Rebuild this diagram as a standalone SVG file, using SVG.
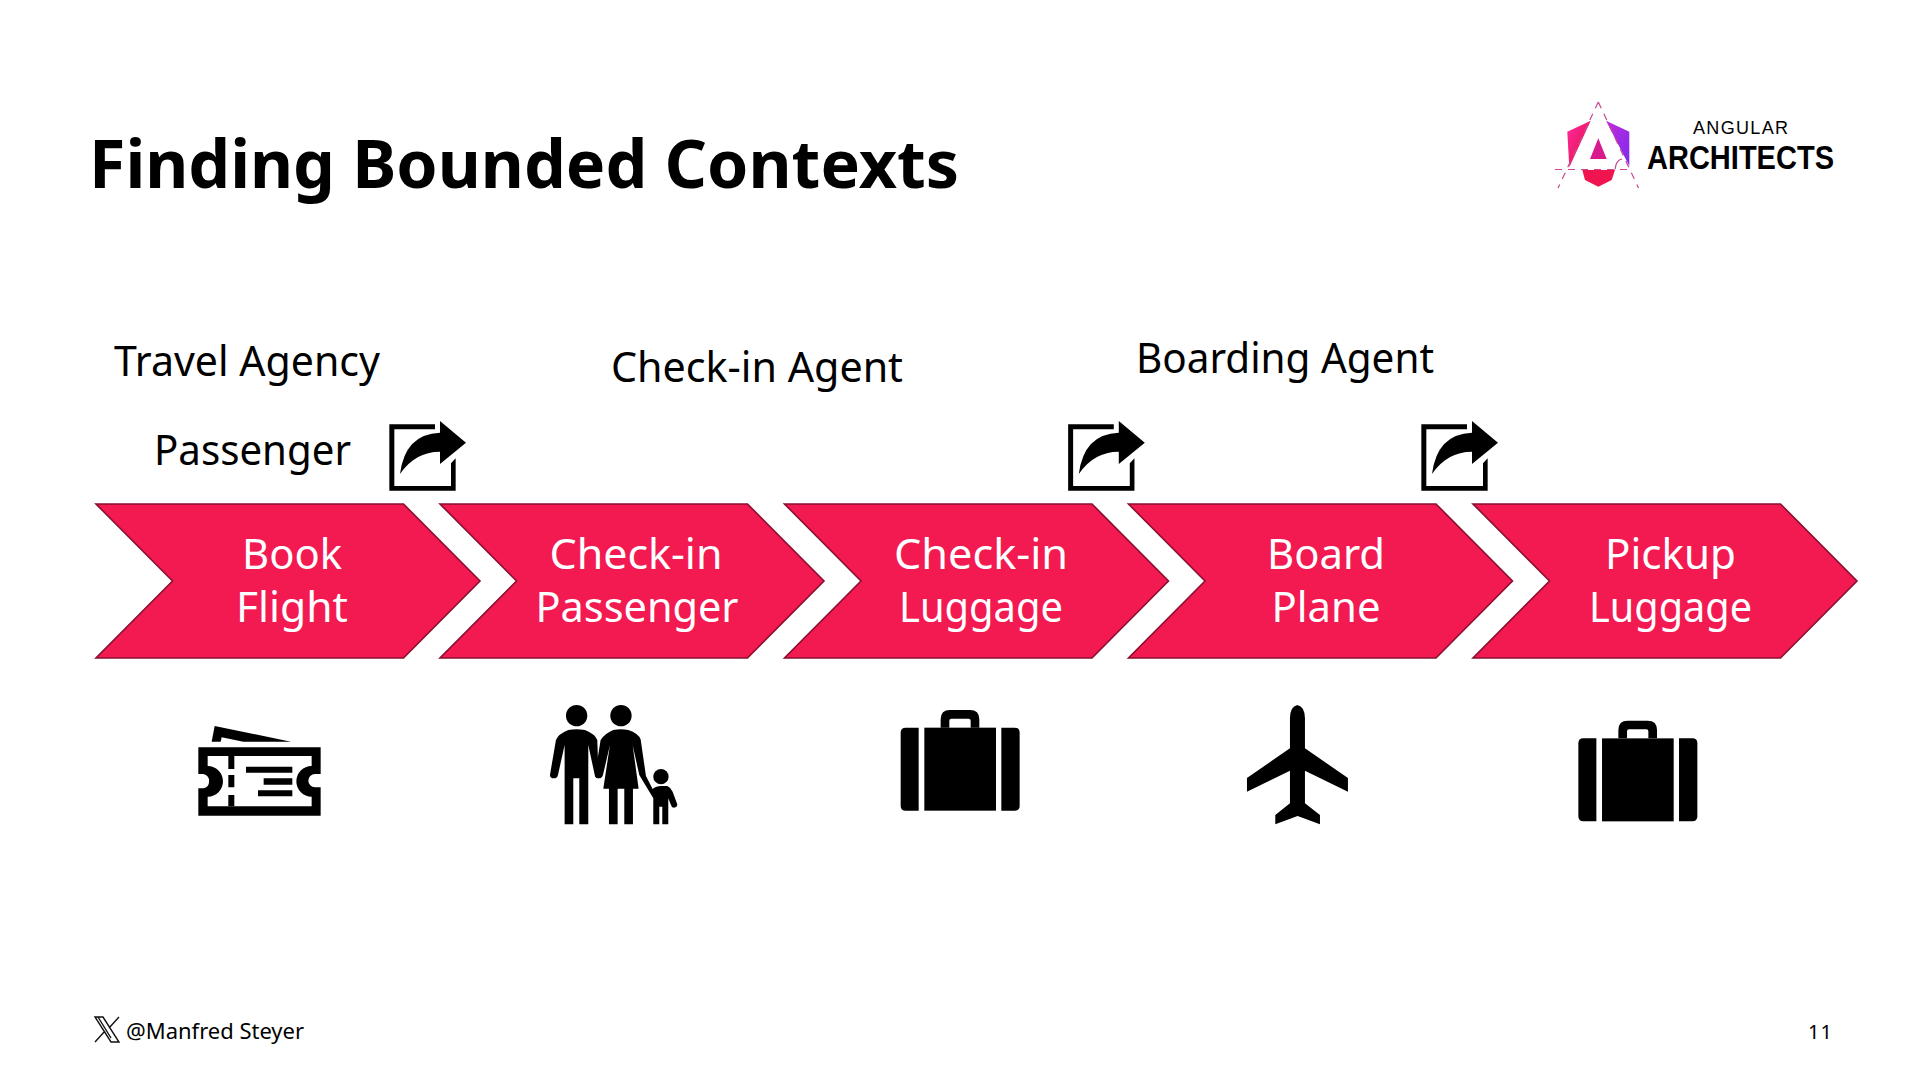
<svg xmlns="http://www.w3.org/2000/svg" width="1920" height="1080" viewBox="0 0 1920 1080">
<style>
text{font-family:"Noto Sans","Open Sans","Liberation Sans",sans-serif;fill:#000}
.t{font-size:41.5px;fill:#fff;text-anchor:middle}
.l{font-size:41px}
.c{fill:#f31a52;stroke:#8a0f30;stroke-width:1.6}
.d{fill:none;stroke:#c9488f;stroke-width:1.2;stroke-dasharray:7 6}
.m{font-family:"Liberation Sans",Arial,sans-serif}
</style>
<defs>
<linearGradient id="lg" x1="0" y1="0" x2="1" y2="1"><stop offset="0" stop-color="#ff2aa0"/><stop offset="1" stop-color="#e0103f"/></linearGradient>
<linearGradient id="rg" x1="0" y1="0" x2="1" y2="1"><stop offset="0" stop-color="#c52ad8"/><stop offset="1" stop-color="#7a2cf0"/></linearGradient>
<polygon id="chev" points="0,0 307.5,0 384,77 307.5,154 0,154 76.5,77"/>
<g id="share" transform="scale(.3333)">
<path d="M58 43H195V58H73V228H243V160L257 145V242H58Z"/>
<path d="M210 33L288 98 210 162V125Q135 125 90 192 105 72 210 68Z"/>
</g>
<g id="case" transform="scale(.3333)">
<path d="M107 113H146V362H107Q92 362 92 347V128Q92 113 107 113Z"/>
<rect x="163" y="113" width="215" height="249"/>
<path d="M394 113H434Q449 113 449 128V347Q449 362 434 362H394Z"/>
<path fill-rule="evenodd" d="M212 113V88Q212 60 240 60H300Q328 60 328 88V113H302V92Q302 86 296 86H244Q238 86 238 92V113Z"/>
</g>
</defs>
<rect width="1920" height="1080" fill="#fff"/>

<text id="title" x="89" y="188" font-size="67" font-weight="700" textLength="870" lengthAdjust="spacingAndGlyphs">Finding Bounded Contexts</text>

<g id="logo">
<polygon points="1590.7,120.7 1567.3,131.7 1569.3,167.3" fill="url(#lg)"/>
<polygon points="1606,120.7 1629.3,131.7 1629.3,166" fill="url(#rg)"/>
<polygon points="1582.3,170 1615,170 1611.7,180 1598.3,186.7 1585,180" fill="#f0154f"/>
<polygon points="1598.3,138.3 1606.7,159 1590,159" fill="#d81b8c"/>
<path class="d" d="M1598.3 102L1558 188M1598.3 102L1638.5 188M1555 169.5H1629"/>
<path d="M1615 169.5Q1616 160 1622 159" fill="none" stroke="#c9488f" stroke-width="1.2"/>
<text class="m" x="1693" y="134" font-size="18" textLength="95" lengthAdjust="spacing" fill="#1a1a1a">ANGULAR</text>
<text class="m" x="1647" y="169" font-size="33" font-weight="700" textLength="187" lengthAdjust="spacingAndGlyphs">ARCHITECTS</text>
</g>

<g id="role-travel-agency"><text class="l" x="114" y="376" textLength="266" lengthAdjust="spacingAndGlyphs">Travel Agency</text></g>
<g id="role-passenger"><text class="l" x="154" y="465" textLength="197" lengthAdjust="spacingAndGlyphs">Passenger</text></g>
<g id="role-checkin-agent"><text class="l" x="611" y="382" textLength="292" lengthAdjust="spacingAndGlyphs">Check-in Agent</text></g>
<g id="role-boarding-agent"><text class="l" x="1136" y="373" textLength="298" lengthAdjust="spacingAndGlyphs">Boarding Agent</text></g>

<g id="event-1"><use href="#share" transform="translate(370,410)"/></g>
<g id="event-2"><use href="#share" transform="translate(1048.8,410)"/></g>
<g id="event-3"><use href="#share" transform="translate(1402,410)"/></g>

<g id="book-flight"><use href="#chev" class="c" transform="translate(96,504)"/>
<text class="t" x="292" y="569" textLength="100" lengthAdjust="spacingAndGlyphs">Book</text><text class="t" x="292" y="622" textLength="112" lengthAdjust="spacingAndGlyphs">Flight</text></g>
<g id="checkin-passenger"><use href="#chev" class="c" transform="translate(440,504)"/>
<text class="t" x="636" y="569" textLength="173" lengthAdjust="spacingAndGlyphs">Check-in</text><text class="t" x="637" y="622" textLength="203" lengthAdjust="spacingAndGlyphs">Passenger</text></g>
<g id="checkin-luggage"><use href="#chev" class="c" transform="translate(784.5,504)"/>
<text class="t" x="981" y="569" textLength="174" lengthAdjust="spacingAndGlyphs">Check-in</text><text class="t" x="981" y="622" textLength="164" lengthAdjust="spacingAndGlyphs">Luggage</text></g>
<g id="board-plane"><use href="#chev" class="c" transform="translate(1128.5,504)"/>
<text class="t" x="1326" y="569" textLength="118" lengthAdjust="spacingAndGlyphs">Board</text><text class="t" x="1326" y="622" textLength="109" lengthAdjust="spacingAndGlyphs">Plane</text></g>
<g id="pickup-luggage"><use href="#chev" class="c" transform="translate(1473,504)"/>
<text class="t" x="1670.5" y="569" textLength="131" lengthAdjust="spacingAndGlyphs">Pickup</text><text class="t" x="1670.5" y="622" textLength="163" lengthAdjust="spacingAndGlyphs">Luggage</text></g>

<g id="icon-ticket" transform="translate(180,690) scale(.3333)">
<path fill-rule="evenodd" d="M55 172H422V252H405A20 20 0 0 0 405 292H422V377H55V295H70A22 22 0 0 0 70 252H55ZM83 198V228A44 44 0 0 1 83 320V349H395V320A44 44 0 0 1 395 228V198Z"/>
<path d="M145 198H163V237H145ZM145 255H163V292H145ZM145 315H163V349H145ZM198 230H337V248H198ZM251 265H337V284H251ZM234 301H337V319H234Z"/>
<path d="M104 108L333 155H190L125 142 122 155H95Z"/>
</g>

<g id="icon-family" transform="translate(180,690) scale(.3333)">
<circle cx="1190" cy="77" r="32"/><circle cx="1323" cy="77" r="32"/><circle cx="1443" cy="260" r="23"/>
<path d="M1128 150L1110 255Q1110 265 1122 265 1132 265 1134 255L1154 165V403H1180V265H1198V403H1225V165L1245 258Q1250 265 1256 265L1252 150Q1245 132 1215 120 1190 115 1165 120 1135 132 1128 150Z"/>
<path d="M1262 150L1245 255Q1245 265 1256 265 1266 265 1269 255L1290 165 1270 296H1287V403H1313V296H1333V403H1359V296H1376L1358 165 1378 255 1420 325 1426 313 1398 258 1382 148Q1375 130 1345 120 1323 115 1300 120 1275 130 1262 150Z"/>
<path d="M1415 300Q1425 288 1445 288H1462Q1472 292 1478 305L1492 343Q1492 353 1482 353 1476 353 1474 347L1465 325V403H1447V350H1438V403H1420V325Z"/>
</g>

<g id="icon-luggage-1"><use href="#case" transform="translate(870,690)"/></g>
<g id="icon-luggage-2"><use href="#case" transform="translate(1547.7,700.7)"/></g>

<g id="icon-plane" transform="translate(870,690) scale(.3333)">
<path d="M1282 45Q1305 50 1305 85V175L1434 264V305L1305 242V340L1350 375V403L1283 378 1216 403V375L1260 340V242L1131 305V264L1260 175V85Q1260 50 1282 45Z"/>
</g>

<g id="footer">
<path d="M95 1017H103L119 1042H111ZM98 1017L111 1038M119 1017L109 1028M95 1042L105 1031" fill="none" stroke="#111" stroke-width="1.4"/>
<text x="126" y="1039" font-size="22" textLength="178" lengthAdjust="spacingAndGlyphs" fill="#222">@Manfred Steyer</text>
<text x="1808" y="1039" font-size="20" textLength="24" lengthAdjust="spacing" fill="#222">11</text>
</g>
</svg>
